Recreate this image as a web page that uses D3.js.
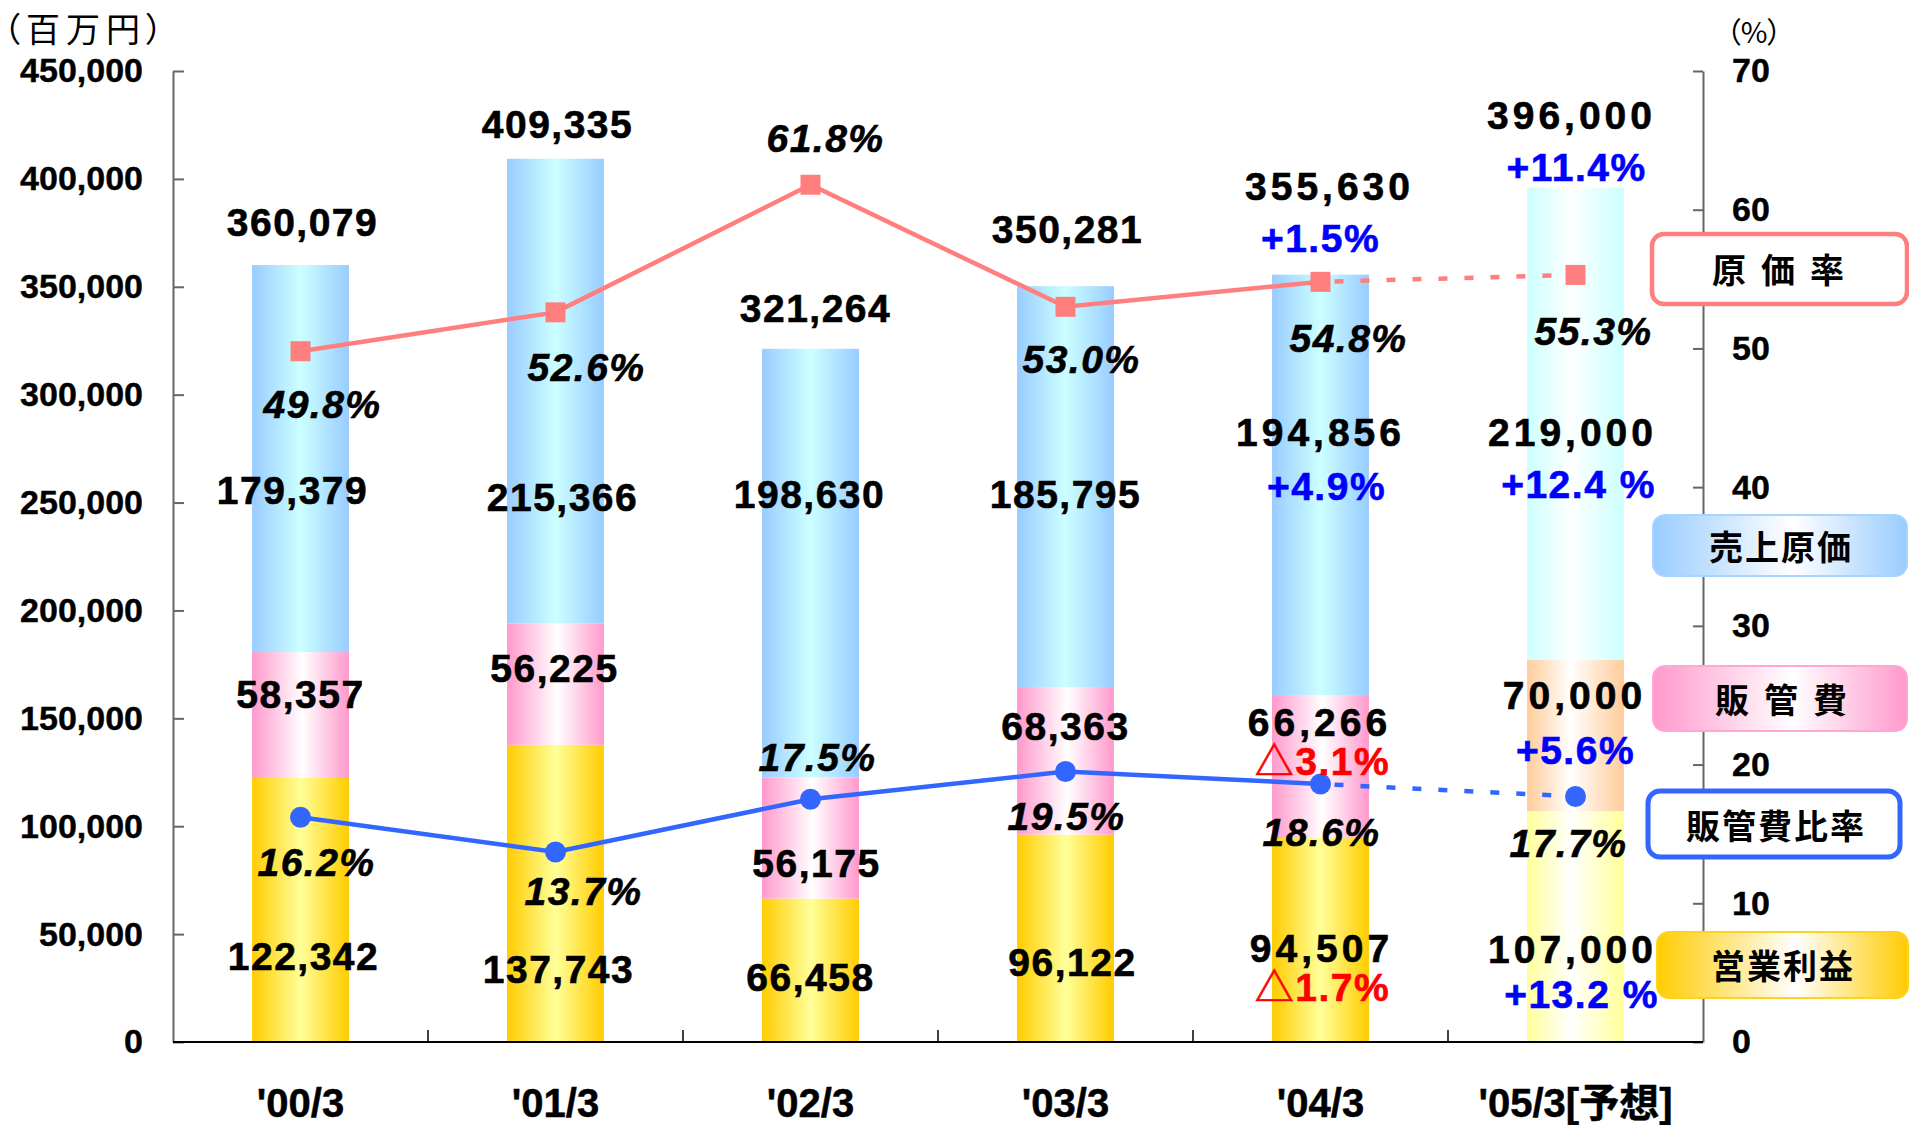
<!DOCTYPE html>
<html>
<head>
<meta charset="utf-8">
<script src="https://cdn.jsdelivr.net/npm/d3@7"></script>
<style>
  html, body { margin: 0; padding: 0; background: #fff; }
  svg text { font-family: 'Liberation Sans', Arial, 'Noto Sans CJK JP', sans-serif; }
  .cjk { font-family: 'Noto Sans CJK JP', sans-serif; }
</style>
</head>
<body>
<div id="chart"></div>
<script>
(function () {
  'use strict'

  // Data (百万円 / %)
  var categories = ["'00/3", "'01/3", "'02/3", "'03/3", "'04/3", "'05/3[予想]"]
  var operatingProfit = [122342, 137743, 66458, 96122, 94507, 107000]
  var sgaExpense = [58357, 56225, 56175, 68363, 66266, 70000]
  var costOfSales = [179379, 215366, 198630, 185795, 194856, 219000]
  var netSales = [360079, 409335, 321264, 350281, 355630, 396000]
  var costRatio = [49.8, 52.6, 61.8, 53.0, 54.8, 55.3]
  var sgaRatio = [16.2, 13.7, 17.5, 19.5, 18.6, 17.7]
  var salesGrowth = [null, null, null, null, '+1.5%', '+11.4%']
  var costGrowth = [null, null, null, null, '+4.9%', '+12.4 %']
  var sgaGrowth = [null, null, null, null, '△3.1%', '+5.6%']
  var profitGrowth = [null, null, null, null, '△1.7%', '+13.2 %']
  var forecast = [false, false, false, false, false, true]
  var leftTicks = [0, 50000, 100000, 150000, 200000, 250000, 300000, 350000, 400000, 450000]
  var rightTicks = [0, 10, 20, 30, 40, 50, 60, 70]
  var legendLabels = ['原価率', '売上原価', '販管費', '販管費比率', '営業利益']

  // Dimensions and stuff
  var w = 1909
  var h = 1125
  var left = 173
  var right = 1703
  var top = 71
  var bottom = 1042

  var s = d3.select('#chart').append('svg')
    .attr('width', w)
    .attr('height', h)

  var x = d3.scaleBand().domain(categories).range([left, right])
    .paddingInner(0.62).paddingOuter(0.31)
  var y = d3.scaleLinear().domain([0, 450000]).range([bottom, top])
  var y2 = d3.scaleLinear().domain([0, 70]).range([bottom, top])

  function cx (i) { return x(categories[i]) + x.bandwidth() / 2 }

  // Gradients
  var defs = s.append('defs')
  function gradient (id, edge, mid, at) {
    var g = defs.append('linearGradient').attr('id', id)
      .attr('x1', 0).attr('x2', 1).attr('y1', 0).attr('y2', 0)
    g.append('stop').attr('offset', 0).attr('stop-color', edge)
    g.append('stop').attr('offset', at).attr('stop-color', mid)
    g.append('stop').attr('offset', 1).attr('stop-color', edge)
  }
  gradient('cost', '#99CCFF', '#CCFFFF', 0.5)
  gradient('sga', '#FF99CC', '#FFFFFF', 0.52)
  gradient('profit', '#FFCC00', '#FFFF99', 0.5)
  gradient('cost-f', '#CCFFFF', '#FFFFFF', 0.45)
  gradient('sga-f', '#FFCC99', '#FFFFFF', 0.45)
  gradient('profit-f', '#FFFF99', '#FFFFFF', 0.45)
  gradient('lg-cost', '#99CCFF', '#FFFFFF', 0.55)
  gradient('lg-sga', '#FF99CC', '#FFFFFF', 0.55)
  gradient('lg-profit', '#FFCC00', '#FFFFFF', 0.55)

  // Stacked bars
  var rows = categories.map(function (c, i) {
    return { cat: c, i: i, profit: operatingProfit[i], sga: sgaExpense[i], cost: costOfSales[i] }
  })
  var stacked = d3.stack().keys(['profit', 'sga', 'cost'])(rows)

  s.append('g').attr('class', 'bars')
    .selectAll('g').data(stacked).enter().append('g')
    .each(function (layer) {
      d3.select(this).selectAll('rect').data(layer).enter().append('rect')
        .attr('x', function (d) { return x(d.data.cat) })
        .attr('width', x.bandwidth())
        .attr('y', function (d) { return y(d[1]) })
        .attr('height', function (d) { return y(d[0]) - y(d[1]) })
        .attr('fill', function (d) {
          return 'url(#' + layer.key + (forecast[d.data.i] ? '-f' : '') + ')'
        })
    })

  // Left axis
  var ya = s.append('g')
    .attr('class', 'y axis')
    .attr('transform', 'translate(' + left + ',0)')
    .call(d3.axisLeft(y).tickValues(leftTicks).tickFormat(d3.format(','))
      .tickSize(-11).tickPadding(30).tickSizeOuter(0))

  // Right axis
  var y2a = s.append('g')
    .attr('class', 'y2 axis')
    .attr('transform', 'translate(' + right + ',0)')
    .call(d3.axisRight(y2).tickValues(rightTicks).tickSize(-10).tickPadding(29).tickSizeOuter(0))

  ;[ya, y2a].forEach(function (a) {
    a.select('.domain').attr('stroke', '#666').attr('stroke-width', 2)
    a.selectAll('.tick line').attr('stroke', '#666').attr('stroke-width', 2)
    a.selectAll('.tick text')
      .attr('font-size', 34).attr('font-weight', 'bold').attr('fill', '#000')
      .attr('stroke', '#000').attr('stroke-width', 0.4)
      .style('font-family', "'Liberation Sans', Arial, sans-serif")
  })

  // Bottom axis: labels, base line and category separators
  var xa = s.append('g')
    .attr('class', 'x axis')
    .attr('transform', 'translate(0,' + bottom + ')')
    .call(d3.axisBottom(x).tickSize(0).tickPadding(47))
  xa.select('.domain').remove()
  xa.selectAll('.tick text')
    .attr('font-size', 40).attr('font-weight', 'bold').attr('fill', '#000')
    .attr('stroke', '#000').attr('stroke-width', 0.5)
    .style('font-family', "'Liberation Sans', Arial, 'Noto Sans CJK JP', sans-serif")

  s.append('line')
    .attr('x1', left).attr('x2', right).attr('y1', bottom).attr('y2', bottom)
    .attr('stroke', '#000').attr('stroke-width', 2)
  s.append('g').selectAll('line').data(d3.range(1, categories.length)).enter().append('line')
    .attr('x1', function (k) { return left + k * x.step() })
    .attr('x2', function (k) { return left + k * x.step() })
    .attr('y1', bottom).attr('y2', bottom - 12)
    .attr('stroke', '#000').attr('stroke-width', 1.5)

  // Ratio lines (dashed into the forecast year)
  function drawRatio (values, scale, color, shape) {
    var pts = values.map(function (v, i) { return { i: i, v: v } })
    var line = d3.line().x(function (d) { return cx(d.i) }).y(function (d) { return scale(d.v) })
    var lastActual = forecast.indexOf(true) - 1
    var g = s.append('g')
    g.append('path').datum(pts.filter(function (d) { return !forecast[d.i] }))
      .attr('d', line).attr('fill', 'none').attr('stroke', color).attr('stroke-width', 4.5)
    g.append('path').datum(pts.filter(function (d) { return d.i >= lastActual }))
      .attr('d', line).attr('fill', 'none').attr('stroke', color).attr('stroke-width', 4.5)
      .attr('stroke-dasharray', '9,17').attr('stroke-dashoffset', -14)
    if (shape === 'square') {
      g.selectAll('rect').data(pts).enter().append('rect')
        .attr('x', function (d) { return cx(d.i) - 10 })
        .attr('y', function (d) { return scale(d.v) - 10 })
        .attr('width', 20).attr('height', 20).attr('fill', color)
    } else {
      g.selectAll('circle').data(pts).enter().append('circle')
        .attr('cx', function (d) { return cx(d.i) })
        .attr('cy', function (d) { return scale(d.v) })
        .attr('r', 10.5).attr('fill', color)
    }
  }
  drawRatio(costRatio, y2, '#FF7F7F', 'square')
  drawRatio(sgaRatio, y2, '#3366FF', 'circle')

  // Label nudges [dx, dy] in px from each label's anchor
  var nudge = {
    total: [[2, -43], [2, -35], [5, -41], [2, -57], [9, -89], [-4, -73]],
    salesGrowth: [null, null, null, null, [0, -37], [1, -21]],
    cost: [[-8, -162], [7, -127], [-1, -283], [0, -193], [0, -263], [-3, -228]],
    costGrowth: [null, null, null, null, [6, -209], [3, -176]],
    sga: [[0, -84], [-1, -77], [6, -36], [0, -109], [-1, -116], [-1, -116]],
    sgaGrowth: [null, null, null, null, [2, -77], [0, -61]],
    profit: [[3, -86], [3, -73], [0, -65], [7, -80], [1, -94], [-3, -93]],
    profitGrowth: [null, null, null, null, [2, -55], [6, -48]],
    costRatio: [[22, 53], [31, 55], [15, -47], [16, 52], [28, 56], [18, 56]],
    sgaRatio: [[16, 45], [28, 39], [7, -42], [1, 44], [1, 48], [-7, 46]]
  }

  var labels = s.append('g').attr('class', 'labels')
  function label (text, px, py, opts) {
    var col = opts.color || '#000'
    labels.append('text')
      .attr('x', px).attr('y', py).attr('dy', '0.36em')
      .attr('text-anchor', 'middle')
      .attr('font-size', 39).attr('font-weight', 'bold')
      .attr('font-style', opts.italic ? 'italic' : 'normal')
      .attr('letter-spacing', opts.ls || 1.5)
      .attr('fill', col)
      .attr('stroke', col).attr('stroke-width', 0.6)
      .text(text)
  }
  function growthColor (t) { return t.charAt(0) === '△' ? '#FF0000' : '#0000FF' }

  var fmt = d3.format(',')
  categories.forEach(function (c, i) {
    var ls = salesGrowth[i] ? 4 : 1.5
    var costBase = operatingProfit[i] + sgaExpense[i]
    var n = nudge
    label(fmt(netSales[i]), cx(i) + n.total[i][0], y(netSales[i]) + n.total[i][1], { ls: ls })
    label(fmt(costOfSales[i]), cx(i) + n.cost[i][0], y(costBase) + n.cost[i][1], { ls: ls })
    label(fmt(sgaExpense[i]), cx(i) + n.sga[i][0], y(operatingProfit[i]) + n.sga[i][1], { ls: ls })
    label(fmt(operatingProfit[i]), cx(i) + n.profit[i][0], y(0) + n.profit[i][1], { ls: ls })
    label(costRatio[i].toFixed(1) + '%', cx(i) + n.costRatio[i][0], y2(costRatio[i]) + n.costRatio[i][1], { italic: true })
    label(sgaRatio[i].toFixed(1) + '%', cx(i) + n.sgaRatio[i][0], y2(sgaRatio[i]) + n.sgaRatio[i][1], { italic: true })
    if (salesGrowth[i]) {
      label(salesGrowth[i], cx(i) + n.salesGrowth[i][0], y(netSales[i]) + n.salesGrowth[i][1], { color: growthColor(salesGrowth[i]) })
      label(costGrowth[i], cx(i) + n.costGrowth[i][0], y(costBase) + n.costGrowth[i][1], { color: growthColor(costGrowth[i]) })
      label(sgaGrowth[i], cx(i) + n.sgaGrowth[i][0], y(operatingProfit[i]) + n.sgaGrowth[i][1], { color: growthColor(sgaGrowth[i]) })
      label(profitGrowth[i], cx(i) + n.profitGrowth[i][0], y(0) + n.profitGrowth[i][1], { color: growthColor(profitGrowth[i]) })
    }
  })

  // Unit labels
  s.append('text').attr('class', 'cjk')
    .attr('x', 3).attr('y', 29).attr('dy', '0.37em')
    .attr('font-size', 34)
    .style('font-feature-settings', "'palt'")
    .attr('letter-spacing', 6)
    .text('（百万円）')
  s.append('text').attr('class', 'cjk')
    .attr('x', 1754).attr('y', 32).attr('dy', '0.37em')
    .attr('text-anchor', 'middle')
    .attr('font-size', 29)
    .style('font-feature-settings', "'palt'")
    .text('（%）')

  // Legend boxes on the right
  var legendLayout = [
    { x: 1652, y: 234, w: 255, h: 70, fill: '#fff', stroke: '#FF7F7F', sw: 4.5, tx: 1778, ty: 270, ls: 15 },
    { x: 1653, y: 515, w: 254, h: 61, fill: 'url(#lg-cost)', stroke: '#A8D4FF', sw: 2, tx: 1780, ty: 547, ls: 2 },
    { x: 1653, y: 666, w: 254, h: 65, fill: 'url(#lg-sga)', stroke: '#FFA6D2', sw: 2, tx: 1781, ty: 700, ls: 15 },
    { x: 1648, y: 791, w: 252, h: 66, fill: '#fff', stroke: '#3366FF', sw: 5, tx: 1775, ty: 826, ls: 2 },
    { x: 1657, y: 932, w: 251, h: 66, fill: 'url(#lg-profit)', stroke: '#FFD21F', sw: 2, tx: 1782, ty: 966, ls: 2 }
  ]
  var lg = s.append('g').attr('class', 'legend')
  legendLabels.forEach(function (t, k) {
    var b = legendLayout[k]
    lg.append('rect')
      .attr('x', b.x).attr('y', b.y).attr('width', b.w).attr('height', b.h)
      .attr('rx', 12).attr('ry', 12)
      .attr('fill', b.fill).attr('stroke', b.stroke).attr('stroke-width', b.sw)
    lg.append('text').attr('class', 'cjk')
      .attr('x', b.tx + b.ls / 2).attr('y', b.ty).attr('dy', '0.37em')
      .attr('text-anchor', 'middle')
      .attr('font-size', 34).attr('font-weight', 'bold')
      .attr('letter-spacing', b.ls)
      .text(t)
  })
}())
</script>
</body>
</html>
